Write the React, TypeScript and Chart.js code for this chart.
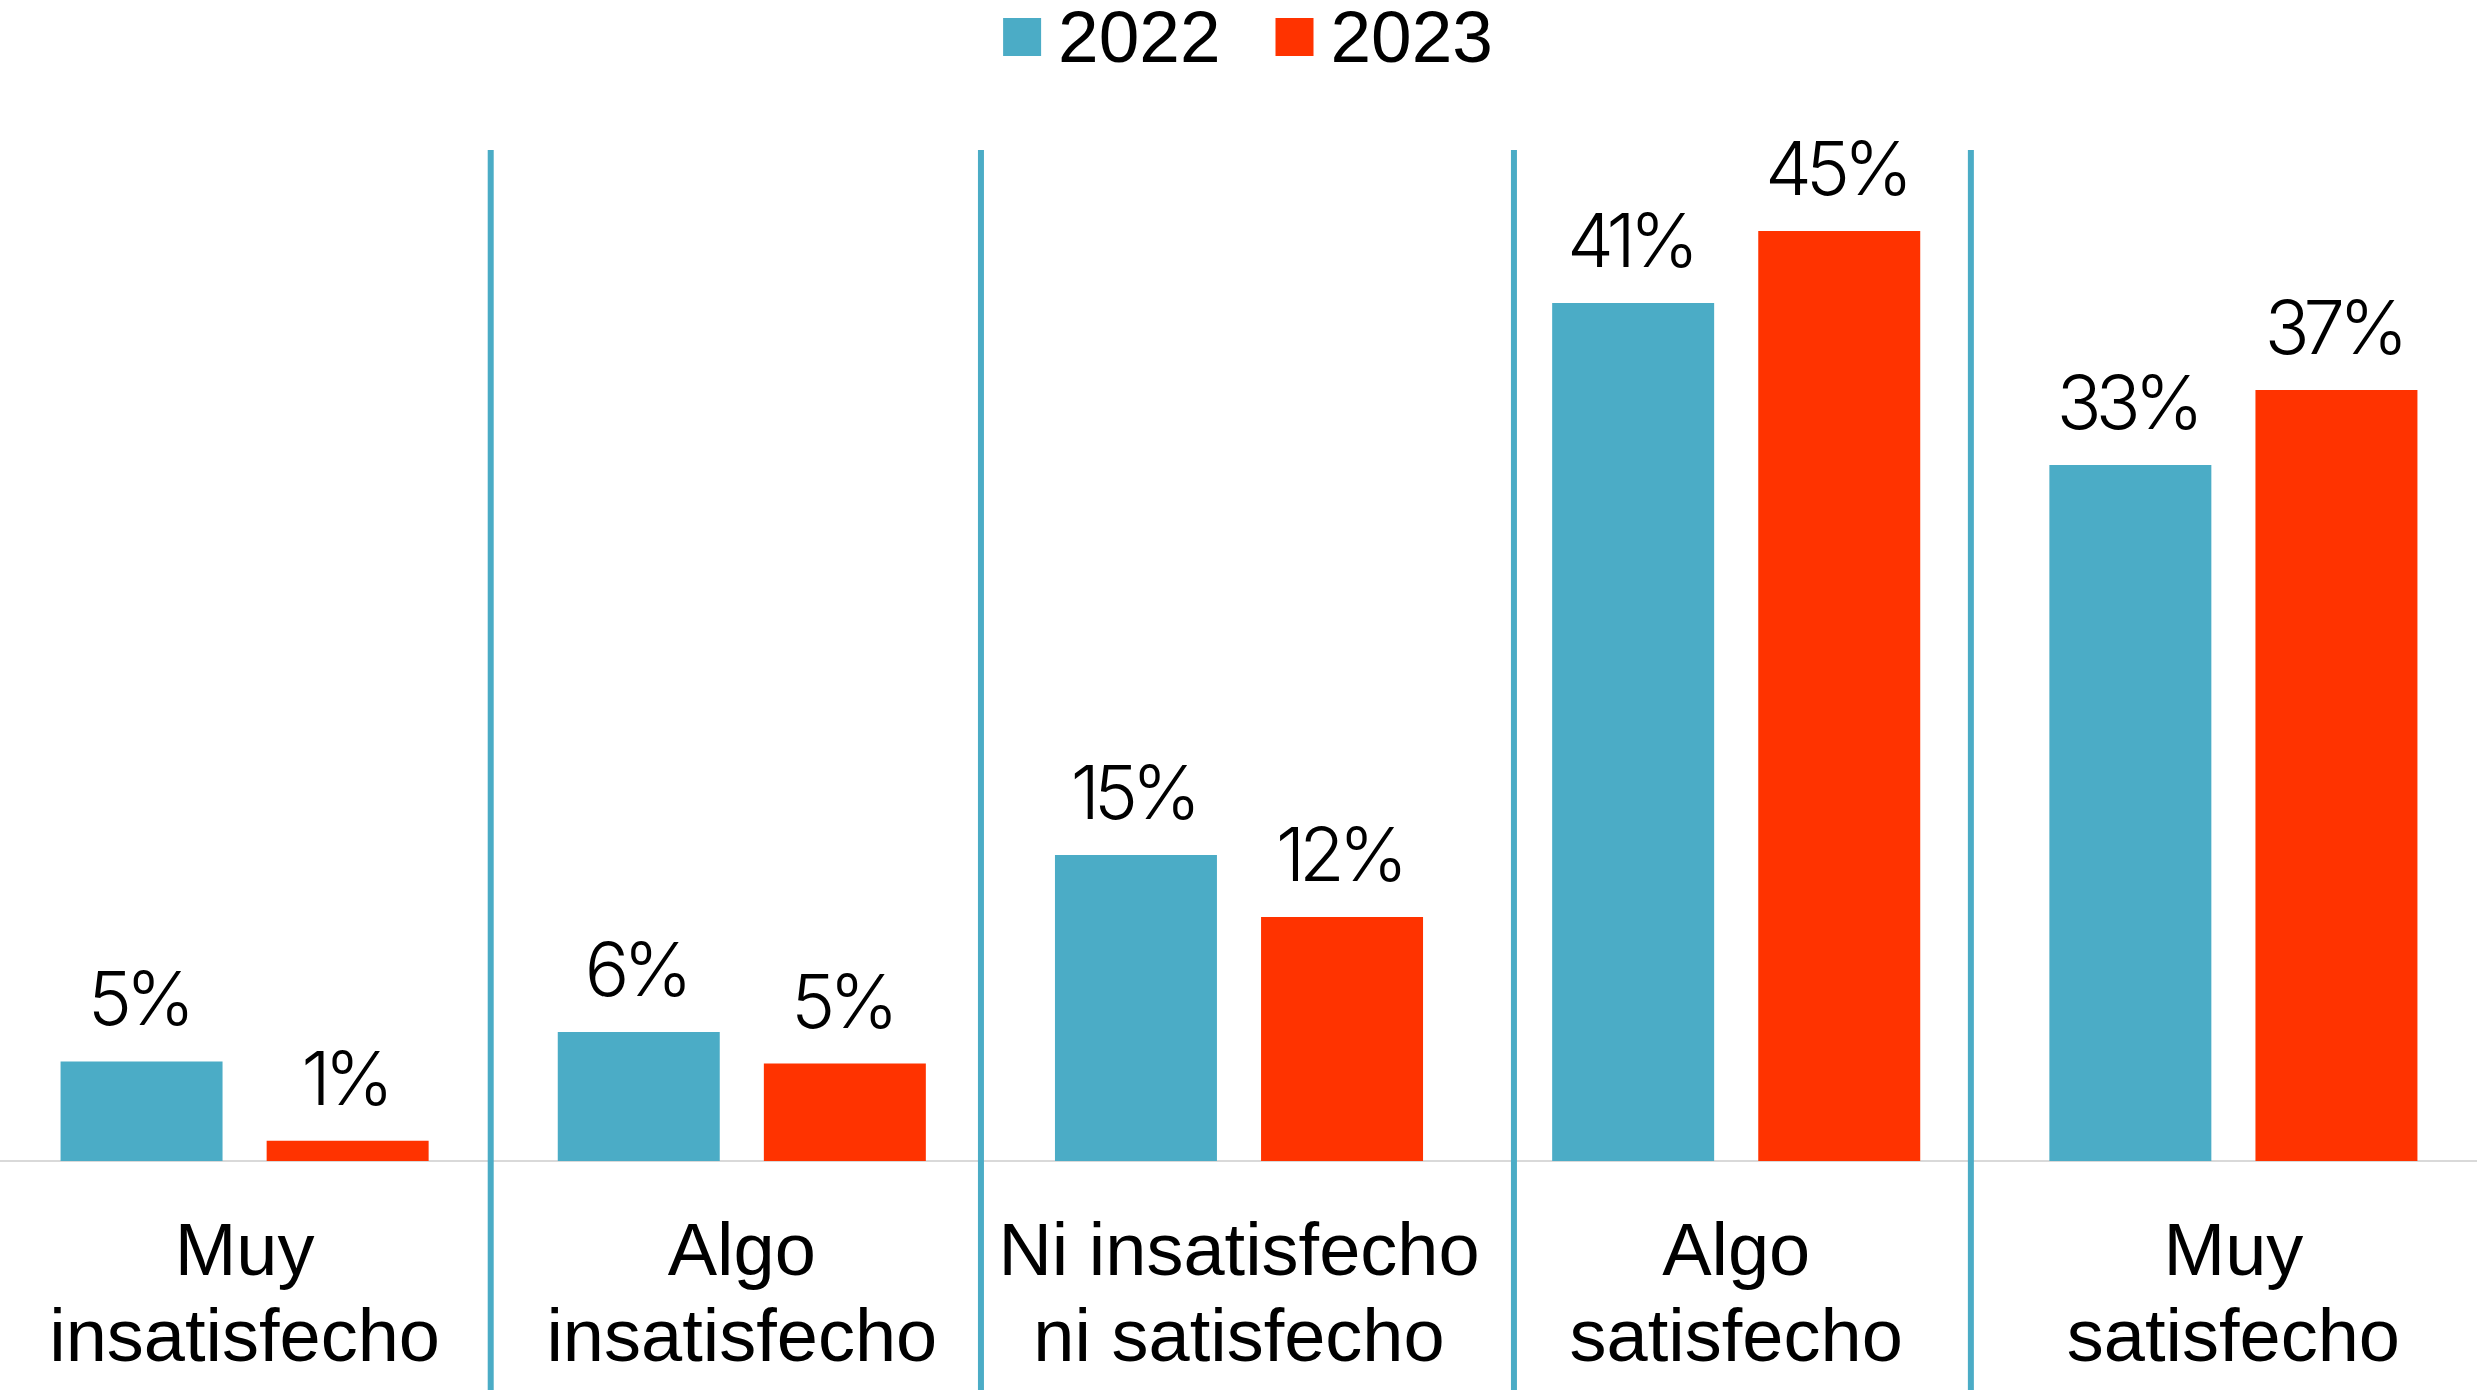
import React, { useEffect, useRef } from "react";
import { Chart, registerables } from "chart.js";

Chart.register(...registerables);

const categories: string[][] = [
  ["Muy", "insatisfecho"],
  ["Algo", "insatisfecho"],
  ["Ni insatisfecho", "ni satisfecho"],
  ["Algo", "satisfecho"],
  ["Muy", "satisfecho"],
];
const seriesNames = ["2022", "2023"];
const values2022 = [4.81, 6.23, 14.78, 41.45, 33.62];
const values2023 = [0.98, 4.71, 11.79, 44.93, 37.25];
const labels2022 = ["5%", "6%", "15%", "41%", "33%"];
const labels2023 = ["1%", "5%", "12%", "45%", "37%"];
const colors = ["#4BACC6", "#FF3300"];
// separator positions, in category units
const dividers = [0.495, 1.481, 2.553, 3.472];

const LABEL_FONT = "Inter, 'Liberation Sans', Arial, sans-serif";
const TEXT_FONT = "'Liberation Sans', Arial, sans-serif";

const decorPlugin = {
  id: "decor",
  beforeDatasetsDraw(chart: any) {
    const { ctx, chartArea, scales } = chart;
    ctx.save();
    ctx.strokeStyle = colors[0];
    ctx.lineWidth = 6;
    dividers.forEach((d) => {
      const x = scales.x.getPixelForValue(d);
      ctx.beginPath();
      ctx.moveTo(x, chartArea.top + 24);
      ctx.lineTo(x, chart.height);
      ctx.stroke();
    });
    ctx.restore();
  },
  afterDatasetsDraw(chart: any) {
    const { ctx } = chart;
    const allLabels = [labels2022, labels2023];
    ctx.save();
    ctx.fillStyle = "#000";
    ctx.font = `300 74px ${LABEL_FONT}`;
    try {
      (ctx as any).letterSpacing = "-6px";
    } catch (e) {}
    ctx.textAlign = "center";
    ctx.textBaseline = "alphabetic";
    chart.data.datasets.forEach((_: any, di: number) => {
      const meta = chart.getDatasetMeta(di);
      meta.data.forEach((el: any, i: number) => {
        ctx.fillText(allLabels[di][i], el.x - 3, el.y - 36);
      });
    });
    ctx.restore();
  },
  afterDraw(chart: any) {
    const { ctx, chartArea } = chart;
    ctx.save();
    ctx.font = `73px ${TEXT_FONT}`;
    ctx.textBaseline = "alphabetic";
    ctx.textAlign = "left";
    const box = 38;
    const gap = 17;
    const itemGap = 55;
    const items = chart.data.datasets.map((ds: any) => ({
      text: ds.label,
      color: ds.backgroundColor,
      w: ctx.measureText(ds.label).width,
    }));
    const total =
      items.reduce((s: number, it: any) => s + box + gap + it.w, 0) +
      itemGap * (items.length - 1);
    let x = (chartArea.left + chartArea.right) / 2 + 9 - total / 2;
    items.forEach((it: any) => {
      ctx.fillStyle = it.color;
      ctx.fillRect(x, 18, box, box);
      ctx.fillStyle = "#000";
      ctx.fillText(it.text, x + box + gap, 62);
      x += box + gap + it.w + itemGap;
    });
    ctx.restore();
  },
};

export default function App() {
  const ref = useRef<HTMLCanvasElement | null>(null);
  useEffect(() => {
    if (!ref.current) return;
    const chart = new Chart(ref.current, {
      type: "bar",
      data: {
        labels: categories,
        datasets: [
          { label: seriesNames[0], data: values2022, backgroundColor: colors[0] },
          { label: seriesNames[1], data: values2023, backgroundColor: colors[1] },
        ],
      },
      options: {
        animation: false,
        responsive: true,
        maintainAspectRatio: false,
        datasets: { bar: { barPercentage: 0.786, categoryPercentage: 0.829 } },
        layout: { padding: { top: 126, left: 0, right: 0, bottom: 0 } },
        plugins: { legend: { display: false }, tooltip: { enabled: false } },
        scales: {
          y: { display: false, min: 0, max: 50 },
          x: {
            grid: { display: false, drawTicks: false },
            border: { display: true, color: "#D9D9D9", width: 2 },
            ticks: {
              color: "#000",
              font: { family: TEXT_FONT, size: 74, lineHeight: 1.16 },
              padding: 51,
              maxRotation: 0,
              minRotation: 0,
              autoSkip: false,
            },
            afterFit: (s: any) => {
              s.height = 229;
            },
          },
        },
      },
      plugins: [decorPlugin],
    });
    return () => chart.destroy();
  }, []);
  return (
    <div style={{ position: "fixed", left: 0, top: 0, width: 2477, height: 1390, overflow: "hidden", background: "#fff" }}>
      <div style={{ position: "absolute", left: -4, top: 0, width: 2486, height: 1390 }}>
        <canvas ref={ref} />
      </div>
    </div>
  );
}
